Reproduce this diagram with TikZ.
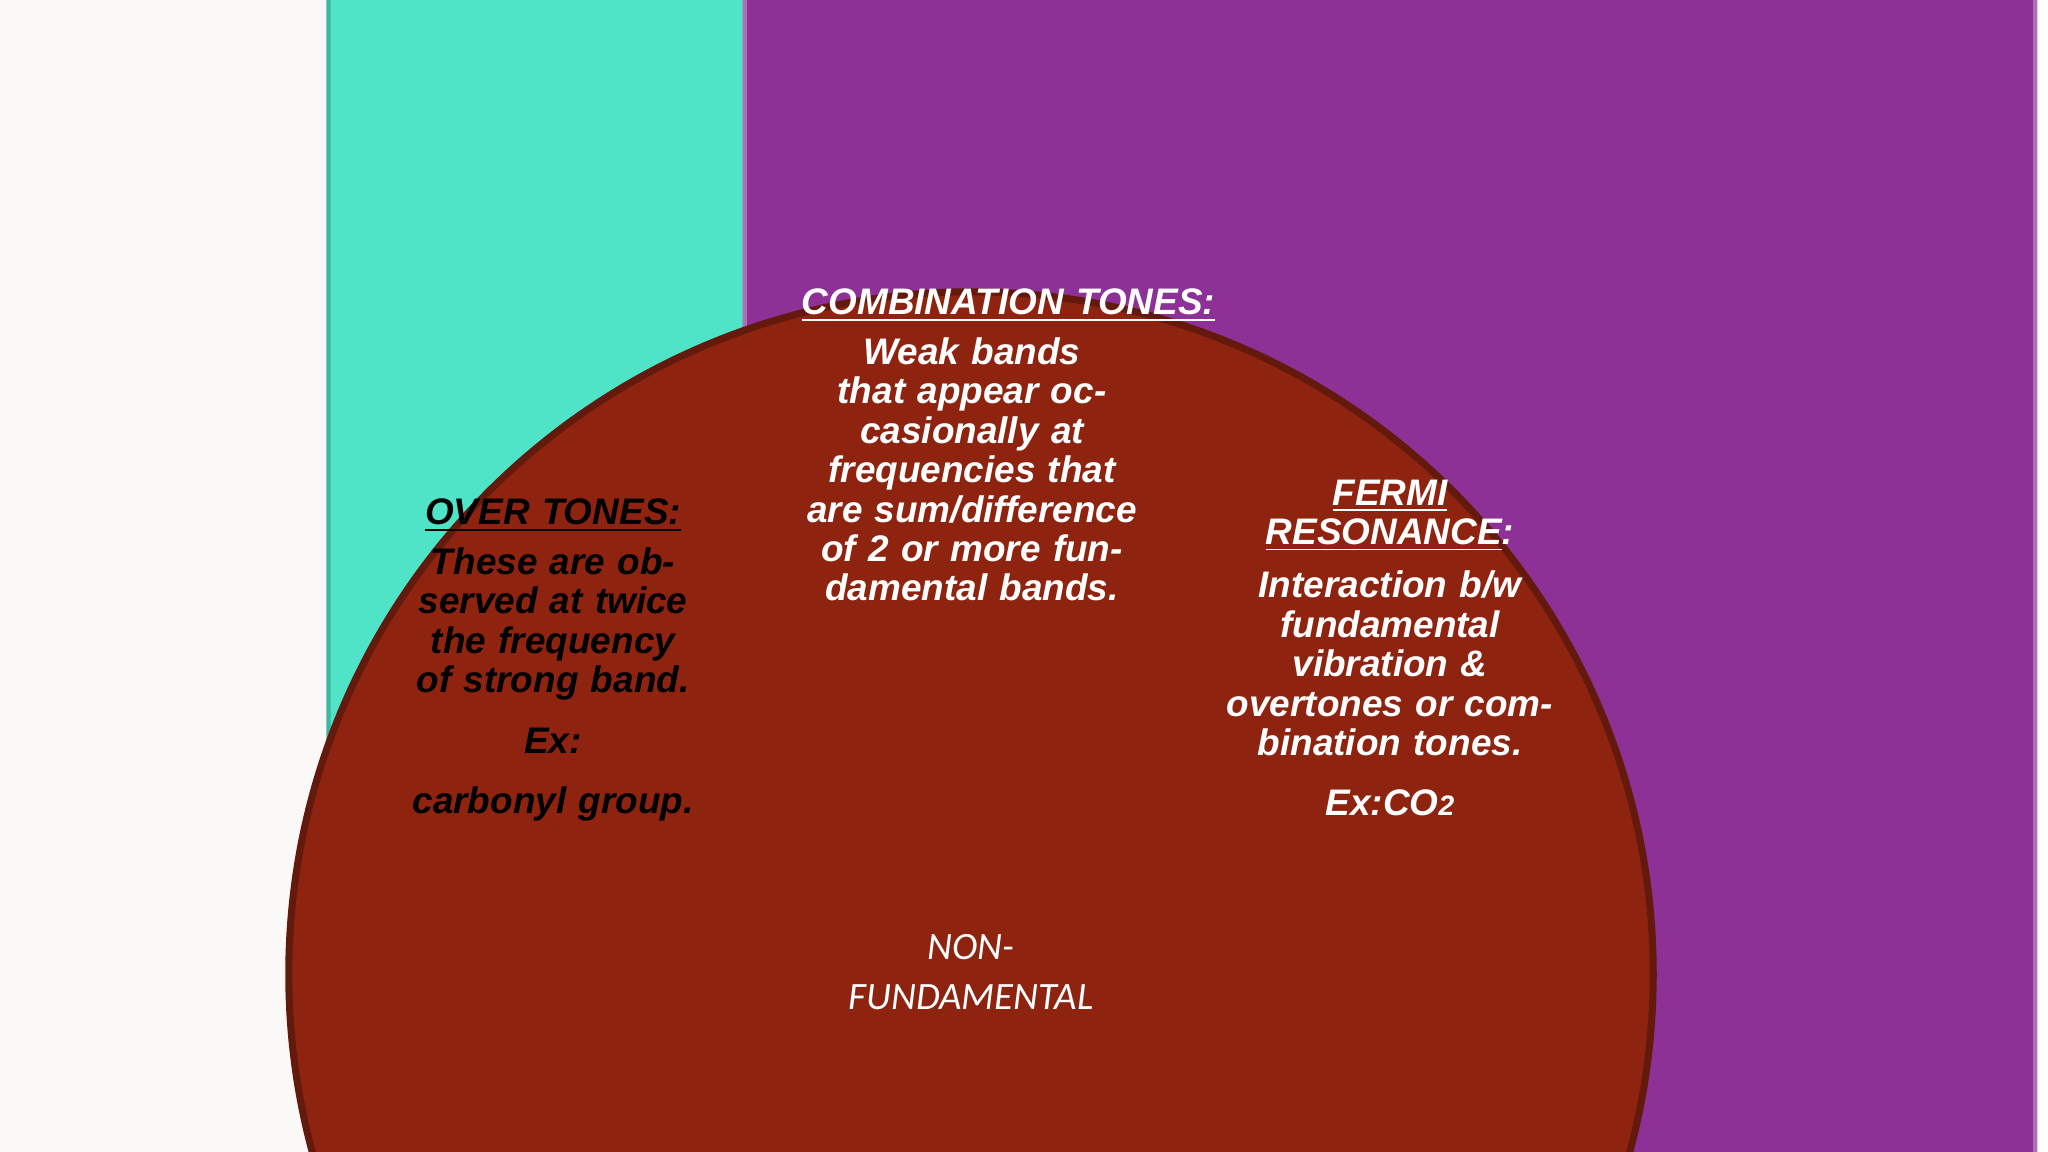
\documentclass[tikz,border=0pt]{standalone}
\usepackage{fontspec}
\setmainfont{Liberation Sans}
\newfontfamily\carl{Carlito}
\definecolor{gold}{HTML}{C29A0C}
\definecolor{teal1}{HTML}{4FE3C8}
\definecolor{purp}{HTML}{8E3196}
\definecolor{rust}{HTML}{8E2410}
\definecolor{paper}{HTML}{FBF8F8}
\tikzset{
 card/.style={rounded corners=22pt,line width=1.2pt,fill=#1},
 ctext/.style={align=center,font=\bfseries\itshape\fontsize{10.5}{11.2}\selectfont,text width=#1},
}
\begin{document}
\begin{tikzpicture}[x=0.01cm,y=-0.01cm]
\useasboundingbox (0,0) rectangle (2048,1152);
\clip (0,0) rectangle (2048,1152);
\node[text=gold,font=\carl\itshape\fontsize{17}{20}\selectfont] (title) at (1011,116) {\underline{NON-FUNDAMENTAL VIBRATIONS}};
% arrows
\path[fill=gray!6,draw=gray!25] (735,768) -- (780,790) -- (778,770) -- (795,845) -- (740,855) -- cycle;
\path[fill=purp] (1206,768) -- (1165,790) -- (1140,845) -- (1206,858) -- cycle;
\path[fill=teal1] (917,702) -- (1027,702) -- (972,760) -- cycle;
% boxes
\node[card=paper,minimum width=366,minimum height=518,draw=gray!30] (over) at (553,681) {};
\node[card=teal1,minimum width=366,minimum height=469,draw=teal1!80!black] (comb) at (972,462) {};
\node[card=purp,minimum width=367,minimum height=496,draw=purp!70!white] (fermi) at (1390,681) {};
\node[circle,fill=rust,draw=rust!70!black,line width=2pt,minimum size=388] (nf) at (971,974) {};
\node[ctext=3.4cm] (ot) at (553,660) {\underline{OVER TONES:}\\[3pt]These are observed at twice the frequency of strong band.\\[6pt]Ex:\\[6pt]carbonyl group.};
\node[ctext=3.4cm,text=white] (ct) at (972,445) {\underline{COMBINATION TONES:}\\[3pt]Weak bands that appear occasionally at frequencies that are sum/difference of 2 or more fundamental bands.};
\node[ctext=3.4cm,text=white] (ft) at (1390,648) {\underline{FERMI}\\\underline{RESONANCE}:\\[4pt]Interaction b/w fundamental vibration \& overtones or combination tones.\\[6pt]Ex:CO{\footnotesize 2}};
\node[text=white,align=center,font=\carl\itshape\fontsize{11}{14}\selectfont] (nft) at (971,972) {NON-\\FUNDAMENTAL};
\end{tikzpicture}
\end{document}
